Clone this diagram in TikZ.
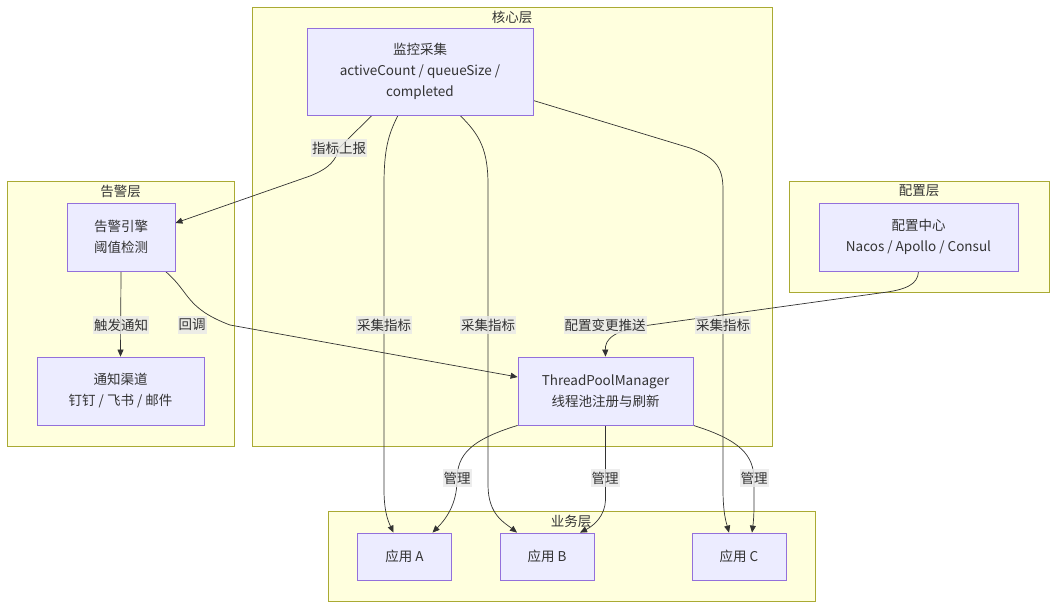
\documentclass[tikz,border=0pt]{standalone}
\usepackage{fontspec}
\setmainfont{Noto Sans CJK SC}
\usetikzlibrary{calc,arrows.meta}
\pgfdeclarelayer{bg}
\pgfdeclarelayer{edges}
\pgfsetlayers{bg,edges,main}
\definecolor{clfill}{HTML}{FFFFDE}
\definecolor{clline}{HTML}{AAAA33}
\definecolor{nodefill}{HTML}{ECECFF}
\definecolor{nodeline}{HTML}{9370DB}
\definecolor{lblfill}{HTML}{E8E8E8}
\definecolor{txt}{HTML}{333333}
\tikzset{
    box/.style={draw=nodeline, fill=nodefill, line width=0.8pt, text=txt, align=center,
        inner sep=0pt, font=\fontsize{13.5}{21}\selectfont},
    layer/.style={draw=clline, fill=clfill, line width=0.8pt},
    ttl/.style={text=txt, inner sep=0pt, font=\fontsize{13.5}{16}\selectfont},
    lbl/.style={fill=lblfill, fill opacity=0.8, text opacity=1, text=txt,
        inner xsep=1pt, inner ysep=3pt, font=\fontsize{13.5}{16}\selectfont},
    arr/.style={draw=txt, line width=0.7pt, -{Triangle[length=7pt,width=6pt]}}
}
\begin{document}
\begin{tikzpicture}[x=1pt,y=-1pt]
    \useasboundingbox (0,0) rectangle (1064,614);
    % layers
    \begin{pgfonlayer}{bg}
        \draw[layer] (252,7) rectangle (772,446);
        \draw[layer] (7,181) rectangle (234,446);
        \draw[layer] (789,181) rectangle (1049,292);
        \draw[layer] (328,511) rectangle (815,601);
    \end{pgfonlayer}
    \node[ttl] (tcore) at (512,17) {核心层};
    \node[ttl] (talert) at (120.5,191) {告警层};
    \node[ttl] (tconf) at (919,191) {配置层};
    \node[ttl] (tbiz) at (571,521) {业务层};
    % nodes
    \node[box, minimum width=226, minimum height=87] (mon) at (420,71.5)
        {监控采集\\activeCount / queueSize /\\completed};
    \node[box, minimum width=108, minimum height=68] (alert) at (121,237) {告警引擎\\阈值检测};
    \node[box, minimum width=167, minimum height=68] (notify) at (120.5,391) {通知渠道\\钉钉 / 飞书 / 邮件};
    \node[box, minimum width=199, minimum height=68] (conf) at (918.5,237) {配置中心\\Nacos / Apollo / Consul};
    \node[box, minimum width=175, minimum height=68] (tpm) at (605.5,391) {ThreadPoolManager\\线程池注册与刷新};
    \foreach \n/\x/\t in {appA/404.5/A, appB/547/B, appC/739/C}
        \node[box, minimum width=94, minimum height=47] (\n) at (\x,556.5) {应用 \t};
    % edge labels
    \node[lbl] (l1) at (339,148) {指标上报};
    \foreach \n/\x in {l2/384, l3/488, l4/723}
        \node[lbl] (\n) at (\x,325) {采集指标};
    \node[lbl] (l5) at (121,325) {触发通知};
    \node[lbl] (l6) at (192,325) {回调};
    \node[lbl] (l7) at (605,325) {配置变更推送};
    \foreach \n/\x in {l8/457, l9/605, l10/754}
        \node[lbl] (\n) at (\x,478) {管理};
    % edges
    \begin{pgfonlayer}{edges}
        \draw[arr] ($(mon.south)+(-48,0)$) -- (l1.center)
            .. controls (336,160) and (330,168) .. (310,176) -- ($(alert.east)+(0,-14)$);
        \draw[arr] ($(mon.south)+(-22,0)$) .. controls (388,135) and (384,150) .. (384,185)
            -- (384,490) .. controls (384,515) and (390,525) .. ($(appA.north)+(-11,0)$);
        \draw[arr] ($(mon.south)+(40,0)$) .. controls (480,135) and (488,150) .. (488,185)
            -- (488,485) .. controls (488,515) and (505,523) .. ($(appB.north)+(-30,0)$);
        \draw[arr] ($(mon.east)+(0,29)$) -- (690,148) .. controls (718,158) and (723,170) .. (723,190)
            -- (723,490) .. controls (723,515) and (727,525) .. ($(appC.north)+(-10,0)$);
        \draw[arr] (alert.south) -- (notify.north);
        \draw[arr] ($(alert.south east)+(-10,0)$) .. controls (190,292) and (185,308) .. (230,325)
            -- ($(tpm.west)+(0,-14)$);
        \draw[arr] (conf.south) .. controls (918,285) and (905,290) .. (880,293) -- (650,325)
            .. controls (612,330) and (605,340) .. (tpm.north);
        \draw[arr] (tpm.south west) .. controls (470,440) and (457,455) .. (457,480)
            .. controls (457,505) and (445,520) .. ($(appA.north)+(28,0)$);
        \draw[arr] (tpm.south) -- (605.5,500) .. controls (605,515) and (595,525) .. ($(appB.north)+(33,0)$);
        \draw[arr] (tpm.south east) .. controls (740,440) and (754,455) .. (754,480)
            -- (754,505) .. controls (754,518) and (753,525) .. ($(appC.north)+(13,0)$);
    \end{pgfonlayer}
\end{tikzpicture}
\end{document}
